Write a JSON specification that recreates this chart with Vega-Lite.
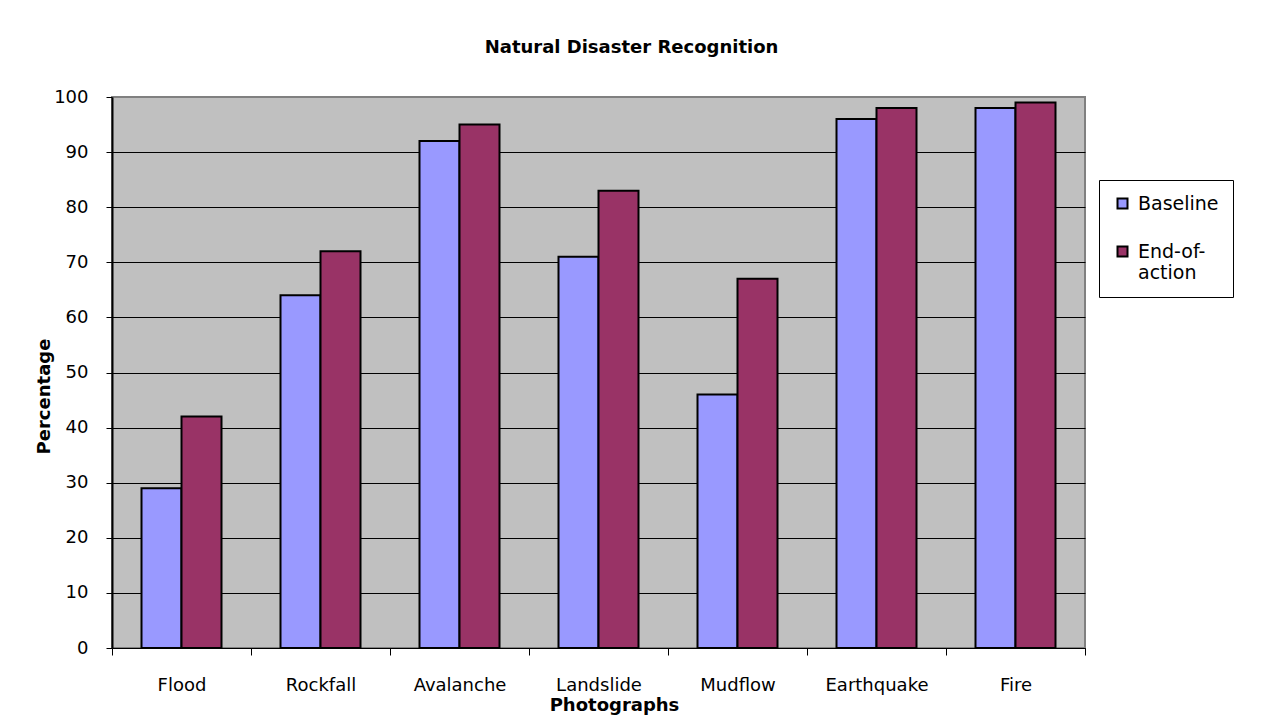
{
  "$schema": "https://vega.github.io/schema/vega-lite/v6.json",
  "width": 973,
  "height": 551,
  "autosize": {"type": "none"},
  "padding": {"left": 112, "top": 97, "right": 176, "bottom": 76},
  "background": "white",
  "config": {
    "font": "DejaVu Sans",
    "view": {"fill": "#C0C0C0", "stroke": "#808080", "strokeWidth": 2}
  },
  "title": {
    "text": "Natural Disaster Recognition",
    "font": "DejaVu Sans",
    "fontSize": 18,
    "fontWeight": "bold",
    "color": "black",
    "anchor": "middle",
    "dx": 33,
    "baseline": "alphabetic",
    "offset": 17
  },
  "data": {
    "values": [
      {"photo": "Flood", "series": "Baseline", "pct": 29},
      {"photo": "Flood", "series": "End-of-action", "pct": 42},
      {"photo": "Rockfall", "series": "Baseline", "pct": 64},
      {"photo": "Rockfall", "series": "End-of-action", "pct": 72},
      {"photo": "Avalanche", "series": "Baseline", "pct": 92},
      {"photo": "Avalanche", "series": "End-of-action", "pct": 95},
      {"photo": "Landslide", "series": "Baseline", "pct": 71},
      {"photo": "Landslide", "series": "End-of-action", "pct": 83},
      {"photo": "Mudflow", "series": "Baseline", "pct": 46},
      {"photo": "Mudflow", "series": "End-of-action", "pct": 67},
      {"photo": "Earthquake", "series": "Baseline", "pct": 96},
      {"photo": "Earthquake", "series": "End-of-action", "pct": 98},
      {"photo": "Fire", "series": "Baseline", "pct": 98},
      {"photo": "Fire", "series": "End-of-action", "pct": 99}
    ]
  },
  "mark": {"type": "bar", "stroke": "black", "strokeWidth": 2},
  "encoding": {
    "x": {
      "field": "photo",
      "type": "nominal",
      "sort": ["Flood", "Rockfall", "Avalanche", "Landslide", "Mudflow", "Earthquake", "Fire"],
      "scale": {"paddingInner": 0, "paddingOuter": 0},
      "axis": {
        "title": "Photographs",
        "titleX": 502,
        "labelAngle": 0,
        "tickBand": "extent",
        "tickColor": "black",
        "tickSize": 7,
        "domainColor": "black",
        "labelFontSize": 18,
        "labelColor": "black",
        "labelPadding": 21,
        "titleFontSize": 18,
        "titleFontWeight": "bold",
        "titleColor": "black",
        "titlePadding": 2
      }
    },
    "xOffset": {
      "field": "series",
      "type": "nominal",
      "sort": ["Baseline", "End-of-action"],
      "scale": {"paddingInner": 0, "paddingOuter": 0.7375}
    },
    "y": {
      "field": "pct",
      "type": "quantitative",
      "scale": {"domain": [0, 100]},
      "axis": {
        "title": "Percentage",
        "titleY": 299,
        "values": [0, 10, 20, 30, 40, 50, 60, 70, 80, 90, 100],
        "tickColor": "black",
        "tickSize": 6,
        "domainColor": "black",
        "domainWidth": 2,
        "gridColor": {"condition": {"test": "datum.value == 100", "value": "#808080"}, "value": "black"},
        "gridWidth": 1,
        "labelFontSize": 18,
        "labelColor": "black",
        "labelPadding": 18,
        "titleFontSize": 18,
        "titleFontWeight": "bold",
        "titleColor": "black",
        "titlePadding": 0
      }
    },
    "color": {
      "field": "series",
      "type": "nominal",
      "scale": {"domain": ["Baseline", "End-of-action"], "range": ["#9999FF", "#993366"]},
      "legend": {
        "title": null,
        "orient": "none",
        "legendX": 987,
        "legendY": 83,
        "fillColor": "white",
        "strokeColor": "black",
        "padding": 14,
        "symbolType": "square",
        "symbolSize": 100,
        "symbolStrokeColor": "black",
        "symbolStrokeWidth": 2,
        "labelFontSize": 19,
        "labelColor": "black",
        "labelOffset": 6,
        "rowPadding": 28,
        "labelBaseline": "middle",
        "labelExpr": "datum.label == 'End-of-action' ? ['End-of-', 'action'] : datum.label"
      }
    }
  }
}
